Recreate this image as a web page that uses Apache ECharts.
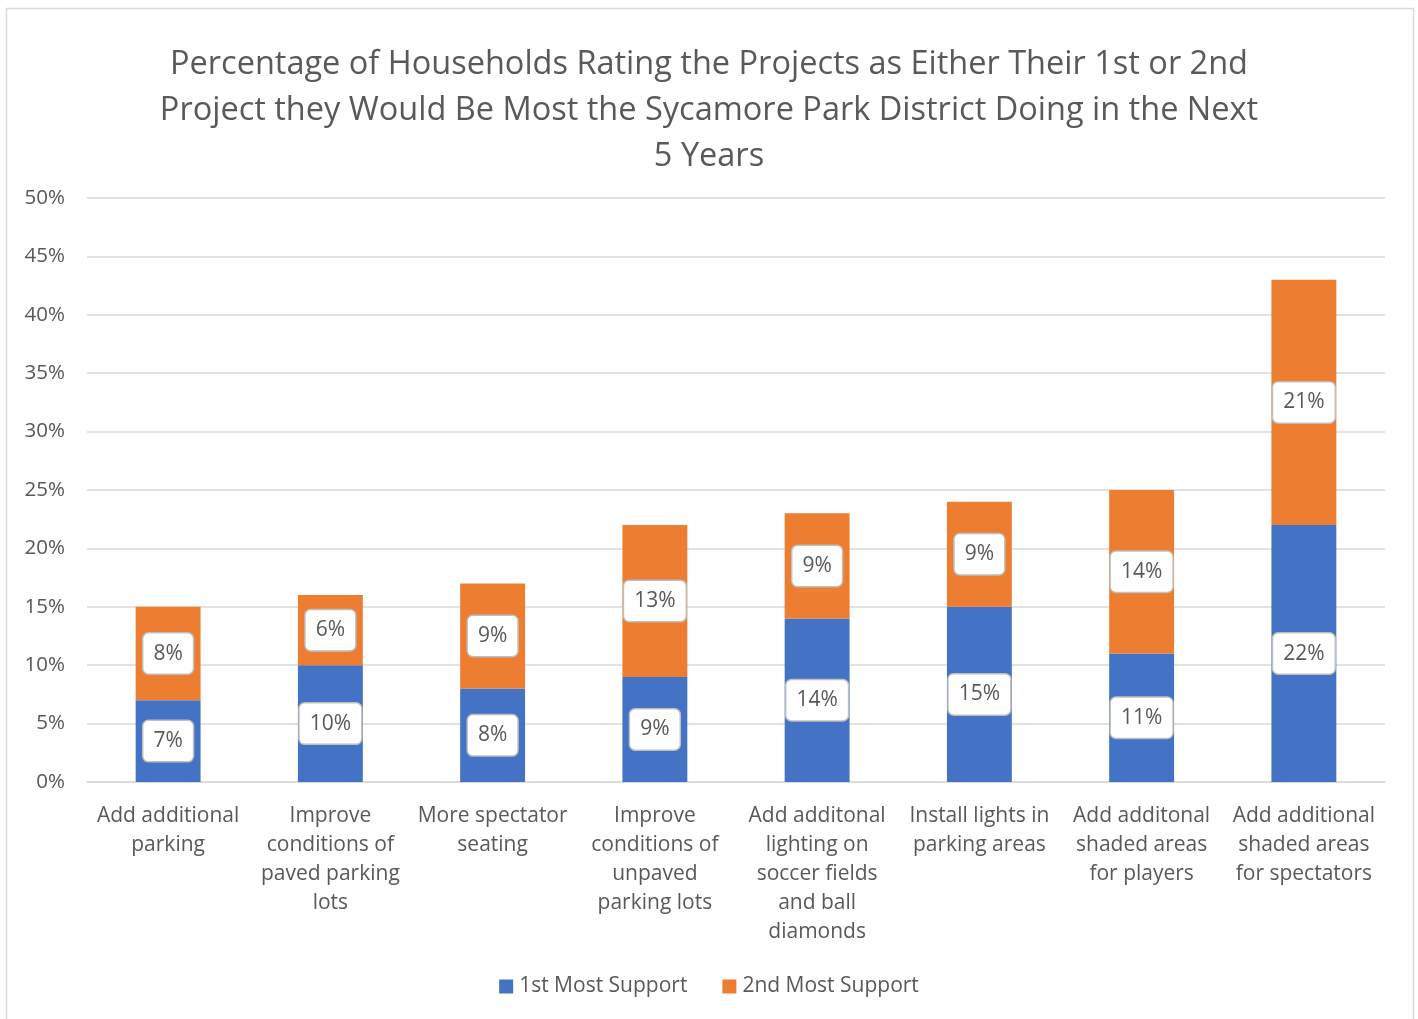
<!DOCTYPE html>
<html>
<head>
<meta charset="utf-8">
<script src="https://cdn.jsdelivr.net/npm/echarts@6/dist/echarts.min.js"></script>
<style>
  html, body { margin: 0; padding: 0; background: #fff; }
  #chart { width: 1418px; height: 1019px; }
</style>
</head>
<body>
<div id="chart"></div>
<script>
// Projects (category axis), with line breaks as shown under each bar
const categories = [
  'Add additional\nparking',
  'Improve\nconditions of\npaved parking\nlots',
  'More spectator\nseating',
  'Improve\nconditions of\nunpaved\nparking lots',
  'Add additonal\nlighting on\nsoccer fields\nand ball\ndiamonds',
  'Install lights in\nparking areas',
  'Add additonal\nshaded areas\nfor players',
  'Add additional\nshaded areas\nfor spectators'
];

// Share of households (percent)
const firstMostSupport = [7, 10, 8, 9, 14, 15, 11, 22];
const secondMostSupport = [8, 6, 9, 13, 9, 9, 14, 21];

const seriesNames = ['1st Most Support', '2nd Most Support'];
const titleText = 'Percentage of Households Rating the Projects as Either Their 1st or 2nd\nProject they Would Be Most the Sycamore Park District Doing in the Next\n5 Years';

const FONT = '"Open Sans", Lato, sans-serif';
const TEXT = '#595959';

const chart = echarts.init(document.getElementById('chart'), null, { renderer: 'canvas' });

const valueLabel = {
  show: true,
  position: 'inside',
  formatter: p => p.value + '%',
  color: TEXT,
  fontFamily: FONT,
  fontSize: 21,
  backgroundColor: '#ffffff',
  borderColor: '#bfbfbf',
  borderWidth: 1.5,
  borderRadius: 5,
  padding: [10, 10, 9, 10]
};

chart.setOption({
  animation: false,
  backgroundColor: '#ffffff',
  graphic: [{
    type: 'rect',
    shape: { x: 6.5, y: 8.5, width: 1407, height: 1030 },
    style: { fill: 'none', stroke: '#d9d9d9', lineWidth: 1.5 },
    silent: true,
    z: -1
  }],
  title: {
    text: titleText,
    left: 'center',
    top: 37,
    textStyle: {
      fontFamily: FONT,
      fontWeight: 400,
      fontSize: 32.5,
      color: TEXT,
      lineHeight: 46
    }
  },
  legend: {
    bottom: 17,
    left: 'center',
    itemWidth: 14,
    itemHeight: 14,
    itemGap: 35,
    icon: 'rect',
    textStyle: { fontFamily: FONT, fontSize: 21, color: TEXT, padding: [0, 0, 0, 1] },
    data: seriesNames
  },
  grid: { left: 87, right: 33, top: 198, bottom: 237, containLabel: false },
  xAxis: {
    type: 'category',
    data: categories,
    axisLine: { lineStyle: { color: '#d9d9d9', width: 1.5 } },
    axisTick: { show: false },
    axisLabel: {
      interval: 0,
      color: TEXT,
      fontFamily: FONT,
      fontSize: 21,
      lineHeight: 29,
      margin: 20,
      align: 'center',
      verticalAlign: 'top'
    }
  },
  yAxis: {
    type: 'value',
    min: 0,
    max: 50,
    interval: 5,
    axisLine: { show: false },
    axisTick: { show: false },
    splitLine: { lineStyle: { color: '#d9d9d9', width: 1.5 } },
    axisLabel: {
      formatter: v => v + '%',
      color: TEXT,
      fontFamily: FONT,
      fontSize: 20.5,
      margin: 22
    }
  },
  series: [
    {
      name: seriesNames[0],
      type: 'bar',
      stack: 'total',
      barWidth: '40%',
      data: firstMostSupport,
      itemStyle: { color: '#4472c4' },
      label: valueLabel
    },
    {
      name: seriesNames[1],
      type: 'bar',
      stack: 'total',
      barWidth: '40%',
      data: secondMostSupport,
      itemStyle: { color: '#ed7d31' },
      label: valueLabel
    }
  ]
});
</script>
</body>
</html>
